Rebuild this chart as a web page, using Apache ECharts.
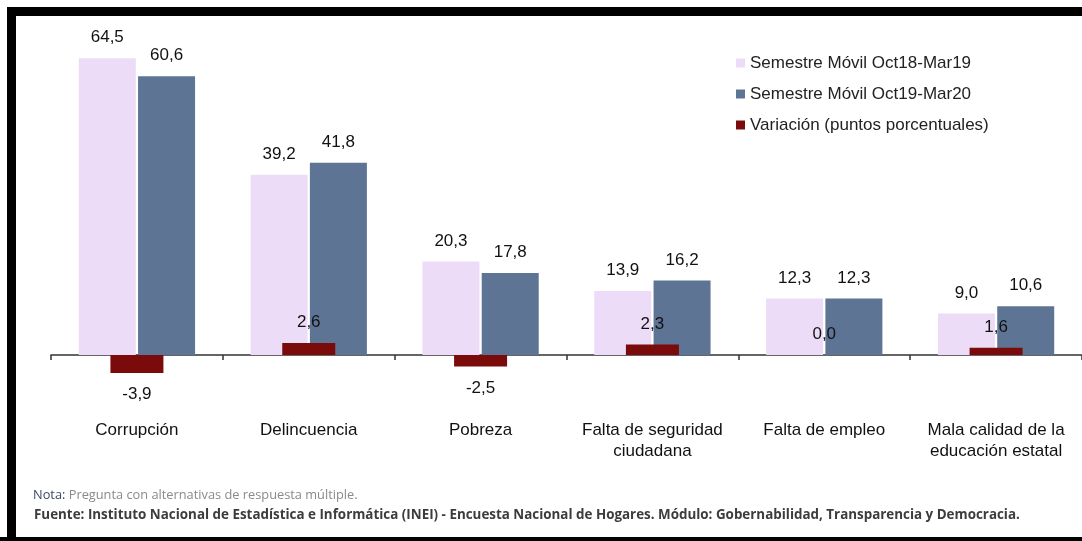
<!DOCTYPE html>
<html>
<head>
<meta charset="utf-8">
<script src="https://cdn.jsdelivr.net/npm/echarts@6/dist/echarts.min.js"></script>
<style>
html,body{margin:0;padding:0;background:#fff;}
#chart{width:1082px;height:541px;}
</style>
</head>
<body>
<div id="chart"></div>
<script>
const categories = ['Corrupción', 'Delincuencia', 'Pobreza', 'Falta de seguridad\nciudadana', 'Falta de empleo', 'Mala calidad de la\neducación estatal'];
const seriesNames = ['Semestre Móvil Oct18-Mar19', 'Semestre Móvil Oct19-Mar20', 'Variación (puntos porcentuales)'];
const semestre1819 = [64.5, 39.2, 20.3, 13.9, 12.3, 9.0];
const semestre1920 = [60.6, 41.8, 17.8, 16.2, 12.3, 10.6];
const variacion = [-3.9, 2.6, -2.5, 2.3, 0.0, 1.6];
const notaLabel = 'Nota:';
const notaText = 'Pregunta con alternativas de respuesta múltiple.';
const fuenteText = 'Fuente: Instituto Nacional de Estadística e Informática (INEI) - Encuesta Nacional de Hogares. Módulo: Gobernabilidad, Transparencia y Democracia.';

const FONT = 'Liberation Sans, Arial, sans-serif';
const fmt = v => v.toFixed(1).replace('.', ',');
const valueLabel = {
  show: true, position: 'top', distance: 12,
  fontFamily: FONT, fontSize: 17, color: '#111',
  formatter: p => fmt(p.value)
};

const chart = echarts.init(document.getElementById('chart'), null, {renderer: 'canvas'});
chart.setOption({
  backgroundColor: '#fff',
  animation: false,
  grid: {left: 51, right: 0, top: 33, height: 368, containLabel: false},
  legend: {
    orient: 'vertical', left: 731, top: 48,
    itemWidth: 9, itemHeight: 9, itemGap: 11,
    icon: 'rect',
    textStyle: {fontFamily: FONT, fontSize: 17, color: '#222', lineHeight: 20},
    data: seriesNames
  },
  xAxis: [{
    type: 'category', data: categories, position: 'bottom',
    axisLine: {onZero: true, lineStyle: {color: '#333', width: 1.5}},
    axisTick: {show: true, length: 5, lineStyle: {color: '#333', width: 1.5}},
    axisLabel: {margin: 19, fontFamily: FONT, fontSize: 17, color: '#111', lineHeight: 21, interval: 0}
  }, {
    type: 'category', data: categories, show: false
  }],
  yAxis: {type: 'value', min: -10, max: 70, show: false, splitLine: {show: false}},
  series: [{
    name: seriesNames[0], type: 'bar', xAxisIndex: 0, data: semestre1819,
    barWidth: 57, barGap: '4%', itemStyle: {color: '#ecdcf7'}, label: valueLabel, z: 2
  }, {
    name: seriesNames[1], type: 'bar', xAxisIndex: 0, data: semestre1920,
    barWidth: 57, barGap: '4%', itemStyle: {color: '#5e7494'}, label: valueLabel, z: 2
  }, {
    name: seriesNames[2], type: 'bar', xAxisIndex: 1, data: variacion.map(v => ({
      value: v,
      label: v < 0 ? {position: 'bottom', distance: 13} : {}
    })),
    barWidth: 53, itemStyle: {color: '#7b0b0b'}, label: valueLabel, z: 3
  }],
  graphic: [
    {type: 'rect', z: 100, shape: {x: 7, y: 7, width: 1075, height: 9}, style: {fill: '#000'}},
    {type: 'rect', z: 100, shape: {x: 7, y: 7, width: 9, height: 534}, style: {fill: '#000'}},
    {type: 'rect', z: 100, shape: {x: 0, y: 537, width: 1082, height: 4}, style: {fill: '#000'}},
    {type: 'text', z: 100, left: 33, top: 489, style: {
      text: '{a|' + notaLabel + '} {b|' + notaText + '}',
      rich: {
        a: {fontFamily: 'Open Sans, sans-serif', fontSize: 12.8, fill: '#3d4a60'},
        b: {fontFamily: 'Open Sans, sans-serif', fontSize: 12.8, fill: '#8a8a8a'}
      }
    }},
    {type: 'text', z: 100, left: 34, top: 509, style: {
      text: fuenteText, fontFamily: 'Open Sans, sans-serif', fontSize: 13.4, fontWeight: 'bold', fill: '#3c3c3c'
    }}
  ]
});
</script>
</body>
</html>
